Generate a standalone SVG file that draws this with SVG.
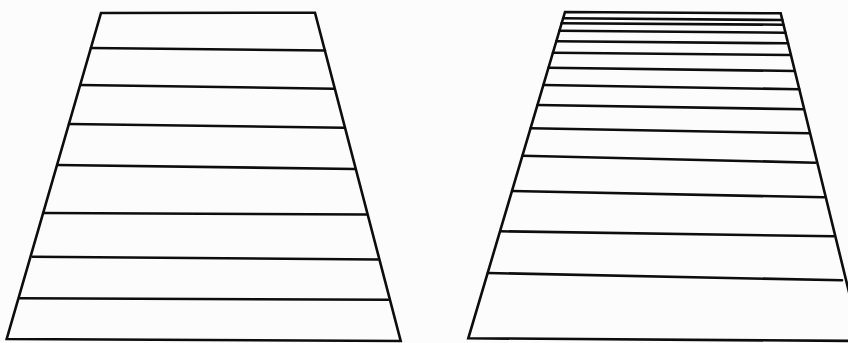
<svg xmlns="http://www.w3.org/2000/svg" width="848" height="343" viewBox="0 0 848 343">
<style>
.s{fill:none;stroke:#0d0d0d;stroke-width:2.6;stroke-linejoin:miter;stroke-linecap:round}
</style>
<rect x="0" y="0" width="848" height="343" fill="#fdfcfc"/>
<g id="left-trapezoid">
<path class="s" d="M101,13 L315,12.7 L400.7,341 L6.7,339 Z"/>
<g id="left-lines">
<line class="s" x1="91" y1="48" x2="325" y2="50.5"/>
<line class="s" x1="80.2" y1="85" x2="333.7" y2="88.7"/>
<line class="s" x1="69" y1="124" x2="343.7" y2="127.7"/>
<line class="s" x1="57.2" y1="165" x2="354.7" y2="169"/>
<line class="s" x1="43.5" y1="213" x2="366.7" y2="214.5"/>
<line class="s" x1="32.7" y1="256.7" x2="378" y2="259.5"/>
<line class="s" x1="20" y1="298.3" x2="388" y2="299.8"/>
</g>
</g>
<g id="right-trapezoid">
<path class="s" d="M565,12 L780.7,13.3 L861,341 L468.3,338.3 Z"/>
<g id="right-lines">
<line class="s" x1="563.1" y1="18.3" x2="782.2" y2="20"/>
<line class="s" x1="561.6" y1="23.3" x2="783.3" y2="24.7"/>
<line class="s" x1="559.5" y1="30.7" x2="785.3" y2="32.7"/>
<line class="s" x1="556.3" y1="41.3" x2="788" y2="43.3"/>
<line class="s" x1="553" y1="52.7" x2="790.7" y2="55"/>
<line class="s" x1="548.6" y1="67.7" x2="794.8" y2="71"/>
<line class="s" x1="543.5" y1="85" x2="799.2" y2="89.3"/>
<line class="s" x1="537.6" y1="105" x2="803.3" y2="109.3"/>
<line class="s" x1="530.7" y1="128.3" x2="809.3" y2="133.3"/>
<line class="s" x1="522.6" y1="155.7" x2="815.3" y2="162.7"/>
<line class="s" x1="512.2" y1="191" x2="824" y2="197.3"/>
<line class="s" x1="500.3" y1="231.3" x2="833.6" y2="236.3"/>
<line class="s" x1="488" y1="273" x2="842" y2="280.3"/>
</g>
</g>
</svg>
